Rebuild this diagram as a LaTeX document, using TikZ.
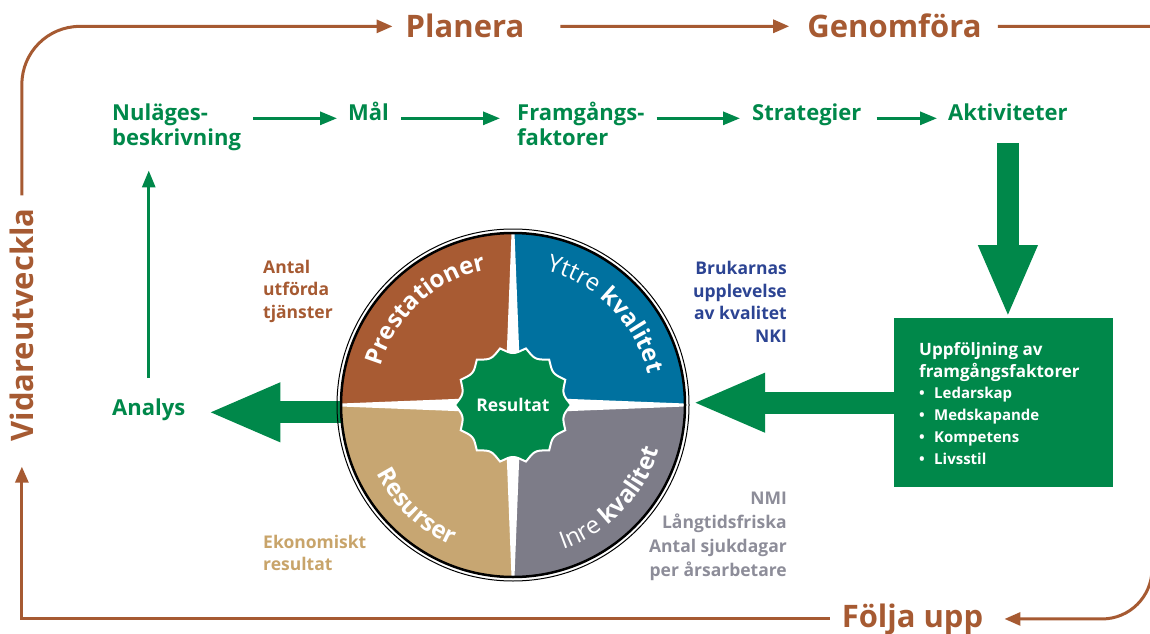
\documentclass[tikz,border=0pt]{standalone}
\usepackage{fontspec}
\setmainfont{Open Sans}
\usetikzlibrary{arrows.meta,decorations.text,calc}

\definecolor{rust}{HTML}{A65A32}
\definecolor{leaf}{HTML}{00884A}
\definecolor{navy}{HTML}{2C4493}
\definecolor{ocean}{HTML}{00719F}
\definecolor{slate}{HTML}{7D7C88}
\definecolor{sand}{HTML}{C7A672}
\definecolor{sandtext}{HTML}{C8A46A}
\definecolor{slatetext}{HTML}{8D8D99}
\definecolor{brick}{HTML}{A85B33}

\newcommand\fsz[2]{\fontsize{#1}{#2}\selectfont}
\newcommand\qbold{\color{white}\bfseries\fsz{24}{28}}
\newcommand\qlight{\color{white}\mdseries\fsz{24}{28}}

\begin{document}
\begin{tikzpicture}[x=1pt,y=1pt,
  phase/.style={text=rust, font=\bfseries\fsz{31}{36}, inner sep=0pt},
  flowlabel/.style={text=leaf, font=\bfseries\fsz{22}{25}, align=left, inner sep=0pt},
  note/.style={font=\bfseries\fsz{17.5}{22.5}, inner sep=0pt},
  loopline/.style={draw=rust, line width=3pt, -{Triangle[length=16pt,width=13pt]}},
  garrow/.style={draw=leaf, line width=3pt, -{Triangle[length=17pt,width=13pt]}},
  bigarrow/.style={draw=leaf, line width=22pt, -{Triangle[length=73pt,width=54pt]}},
  quarter/.style={decorate, decoration={text along path, text align=center}}
]
\useasboundingbox (0,0) rectangle (1150,633);

% ---- cycle phases ----
\node[phase, anchor=base] (planera) at (465,595) {Planera};
\node[phase, anchor=base] (genom) at (894.5,595) {Genomföra};
\node[phase, anchor=base] (follja) at (912.5,6) {Följa upp};
\node[phase, anchor=base, rotate=90] (vid) at (33.5,308) {Vidareutveckla};
\coordinate (rim) at (1152,0);

\draw[loopline, rounded corners=58pt] ([yshift=13pt]vid.east) |- ([xshift=-13pt]planera.west);
\draw[loopline] ([xshift=36pt]planera.east) -- ([xshift=-18pt]genom.west);
\draw[loopline] ([xshift=16pt]genom.east) -| ($(rim |- follja.east)+(0,50)$)
  arc[start angle=0, end angle=-90, radius=50pt] -- ([xshift=21pt]follja.east);
\draw[loopline] ([xshift=-12pt]follja.west) -| ([yshift=-25pt]vid.west);

% ---- planning chain (base anchor = last line) ----
\node[flowlabel, anchor=base west] (nul) at (112,487) {Nuläges-\\beskrivning};
\node[flowlabel, anchor=base west] (mal) at (348,512) {Mål};
\node[flowlabel, anchor=base west] (fram) at (517,487) {Framgångs-\\faktorer};
\node[flowlabel, anchor=base west] (strat) at (752,512) {Strategier};
\node[flowlabel, anchor=base west] (akt) at (948,512) {Aktiviteter};
\node[flowlabel, anchor=base west] (analys) at (112,218) {Analys};

\draw[garrow, shorten <=12pt, shorten >=11pt] (nul.east |- mal.mid) -- (mal.mid west);
\draw[garrow, shorten <=12pt, shorten >=17pt] (mal.mid east) -- (mal.mid -| fram.west);
\draw[garrow, shorten <=12pt, shorten >=12pt] (fram.east |- strat.mid) -- (strat.mid west);
\draw[garrow, shorten <=15pt, shorten >=11pt] (strat.mid east) -- (akt.mid west);
\draw[garrow, shorten <=20pt, shorten >=19pt] (analys.north) -- (analys.north |- nul.south);

% ---- follow-up box ----
\node[fill=leaf, minimum width=219pt, minimum height=169pt, inner sep=0pt, anchor=north west] (box) at (894,315) {};
\node[note, text=white, align=left, anchor=base west, font=\bfseries\fsz{17}{22}] (boxhead) at (919,256)
  {Uppföljning av\\framgångsfaktorer};
\node[text=white, align=left, anchor=base west, inner sep=0pt, font=\bfseries\fsz{15}{21.7}] (boxlist) at (919,169)
  {\makebox[15pt][l]{•}Ledarskap\\\makebox[15pt][l]{•}Medskapande\\\makebox[15pt][l]{•}Kompetens\\\makebox[15pt][l]{•}Livsstil};

% ---- wheel ----
\node[circle, minimum size=358pt, inner sep=0pt] (wheel) at (513,228) {};

\draw[bigarrow, shorten <=22pt] (akt.south) -- (akt.south |- box.north);
\draw[bigarrow] (box.west) -- (box.west -| wheel.east);
\draw[bigarrow, shorten >=22pt] (wheel.center |- analys.mid) -- (analys.mid east);

\begin{scope}[shift={(wheel.center)}]
  \fill[brick] (0,0) -- (180:172) arc[start angle=180, end angle=90, radius=172pt] -- cycle;
  \fill[ocean] (0,0) -- (90:172) arc[start angle=90, end angle=0, radius=172pt] -- cycle;
  \fill[slate] (0,0) -- (0:172) arc[start angle=0, end angle=-90, radius=172pt] -- cycle;
  \fill[sand] (0,0) -- (-90:172) arc[start angle=-90, end angle=-180, radius=172pt] -- cycle;
  \fill[white] (172,1.5) -- (8,8) -- (1.5,172) -- (-1.5,172) -- (-8,8) -- (-172,1.5) -- (-172,-1.5)
    -- (-8,-8) -- (-1.5,-172) -- (1.5,-172) -- (8,-8) -- (172,-1.5) -- cycle;
  \draw[line width=2.5pt] (0,0) circle[radius=172pt];
  \draw[line width=1pt] (0,0) circle[radius=176pt];
  \filldraw[fill=leaf, draw=white, line width=2pt]
    plot[domain=0:360, samples=421] (\x:{58-6*abs(sin(7*\x))}) -- cycle;
  \path[quarter, decoration={text={|\qbold|Prestationer}}]
    (177.5:138) arc[start angle=177.5, end angle=87.5, radius=138pt];
  \path[quarter, decoration={text={|\qlight|Yttre |\qbold|kvalitet}}]
    (89.5:138) arc[start angle=89.5, end angle=-0.5, radius=138pt];
  \path[quarter, decoration={text={|\qbold|Resurser}}]
    (181.5:153) arc[start angle=181.5, end angle=271.5, radius=153pt];
  \path[quarter, decoration={text={|\qlight|Inre |\qbold|kvalitet}}]
    (271:153) arc[start angle=271, end angle=361, radius=153pt];
\end{scope}
\node[text=white, inner sep=0pt, font=\bfseries\fsz{17.5}{20}] (res) at (wheel.center) {Resultat};

% ---- measures ----
\node[note, text=rust, align=left, anchor=base west] (tjanster) at (263,315) {Antal\\utförda\\tjänster};
\node[note, text=navy, align=right, anchor=base east] (nki) at (787,291) {Brukarnas\\upplevelse\\av kvalitet\\NKI};
\node[note, text=sandtext, align=left, anchor=base west, font=\bfseries\fsz{17.5}{22}] (ekon) at (263,63) {Ekonomiskt\\resultat};
\node[note, text=slatetext, align=right, anchor=base east, font=\bfseries\fsz{17.5}{24}] (nmi) at (787,57)
  {NMI\\Långtidsfriska\\Antal sjukdagar\\per årsarbetare};
\end{tikzpicture}
\end{document}
